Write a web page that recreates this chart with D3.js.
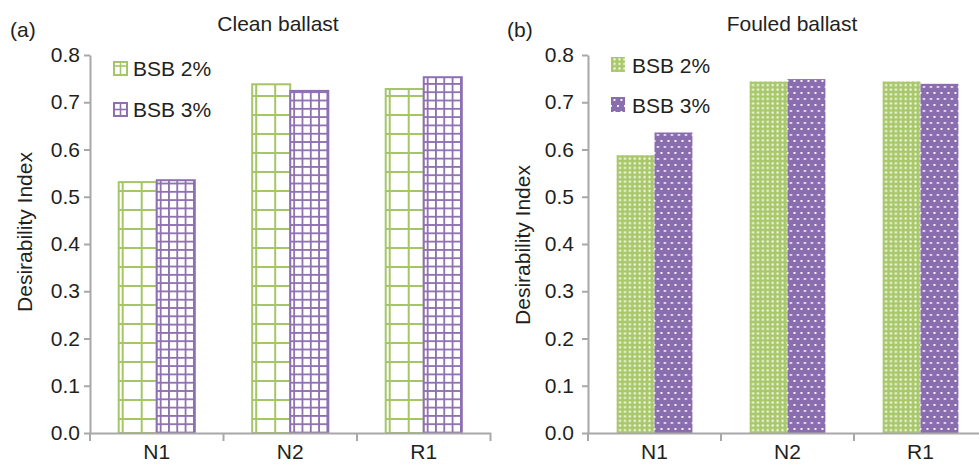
<!DOCTYPE html>
<html>
<head>
<meta charset="utf-8">
<script src="https://cdn.jsdelivr.net/npm/d3@7"></script>
<style>
  html, body { margin: 0; padding: 0; background: #fff; }
  svg { display: block; font-family: "Liberation Sans", Arial, sans-serif; }
</style>
</head>
<body>
<svg id="chart" width="979" height="465"></svg>
<script>
// ---- data ----
const categories = ["N1", "N2", "R1"];
const seriesNames = ["BSB 2%", "BSB 3%"];
const cleanBSB2 = [0.531, 0.738, 0.728];
const cleanBSB3 = [0.535, 0.724, 0.753];
const fouledBSB2 = [0.588, 0.744, 0.744];
const fouledBSB3 = [0.636, 0.749, 0.739];
const yTicks = [0, 0.1, 0.2, 0.3, 0.4, 0.5, 0.6, 0.7, 0.8];
const panelLabels = ["(a)", "(b)"];
const panelTitles = ["Clean ballast", "Fouled ballast"];
const yLabel = "Desirability Index";

// ---- styles ----
const GREEN = "#a5c667";
const PURPLE = "#8e70b1";
const GREEN_FILL = "#a8c86a";
const PURPLE_FILL = "#8a6daf";
const AXIS = "#a8a8a8";
const TEXT = "#231f20";
const FONT = "Liberation Sans, Arial, sans-serif";

const svg = d3.select("#chart");
const defs = svg.append("defs");

// large green grid
const pg = defs.append("pattern").attr("id", "gridGreen").attr("patternUnits", "userSpaceOnUse")
  .attr("x", 3).attr("y", 0).attr("width", 19).attr("height", 19);
pg.append("rect").attr("width", 19).attr("height", 19).attr("fill", "#fff");
pg.append("rect").attr("x", 0).attr("y", 0).attr("width", 2).attr("height", 19).attr("fill", GREEN);
pg.append("rect").attr("x", 0).attr("y", 0).attr("width", 19).attr("height", 2).attr("fill", GREEN);

// small purple grid
const pp = defs.append("pattern").attr("id", "gridPurple").attr("patternUnits", "userSpaceOnUse")
  .attr("x", 3).attr("y", 0).attr("width", 8.3).attr("height", 8.3);
pp.append("rect").attr("width", 8.3).attr("height", 8.3).attr("fill", "#fff");
pp.append("rect").attr("x", 0).attr("y", 0).attr("width", 1.8).attr("height", 8.3).attr("fill", PURPLE);
pp.append("rect").attr("x", 0).attr("y", 0).attr("width", 8.3).attr("height", 1.8).attr("fill", PURPLE);

// green dots
const dg = defs.append("pattern").attr("id", "dotGreen").attr("patternUnits", "userSpaceOnUse")
  .attr("x", 1).attr("y", 0).attr("width", 4.9).attr("height", 4.6);
dg.append("rect").attr("width", 4.9).attr("height", 4.6).attr("fill", GREEN_FILL);
dg.append("rect").attr("x", 1.5).attr("y", 1.3).attr("width", 2).attr("height", 2).attr("fill", "#fff");

// purple dots (staggered)
const dp = defs.append("pattern").attr("id", "dotPurple").attr("patternUnits", "userSpaceOnUse")
  .attr("x", 1).attr("y", 0).attr("width", 7).attr("height", 12);
dp.append("rect").attr("width", 7).attr("height", 12).attr("fill", PURPLE_FILL);
dp.append("rect").attr("x", 1.5).attr("y", 2).attr("width", 1.9).attr("height", 1.9).attr("fill", "#fff");
dp.append("rect").attr("x", 5).attr("y", 8).attr("width", 1.9).attr("height", 1.9).attr("fill", "#fff");

const panels = [
  { data: [cleanBSB2, cleanBSB3], xRange: [90, 490.5], labelX: 10, titleX: 278, ylabX: 32, ylabY: 232,
    tickPad: 4, fills: ["url(#gridGreen)", "url(#gridPurple)"], strokes: [GREEN, PURPLE],
    legX: 113, legText: 133, legY: [61, 102], legBase: [76, 117], hatched: true },
  { data: [fouledBSB2, fouledBSB3], xRange: [588, 987], labelX: 507, titleX: 792, ylabX: 530, ylabY: 245,
    tickPad: 8, fills: ["url(#dotGreen)", "url(#dotPurple)"], strokes: [GREEN_FILL, PURPLE_FILL],
    legX: 611, legText: 632, legY: [57, 97], legBase: [73, 113], hatched: false }
];

const y = d3.scaleLinear().domain([0, 0.8]).range([433, 55]);

panels.forEach((p, pi) => {
  const g = svg.append("g");
  const x = d3.scaleBand().domain(categories).range(p.xRange).paddingInner(0.43).paddingOuter(0.215);
  const x1 = d3.scaleBand().domain(seriesNames).range([0, x.bandwidth()]);

  // bars
  seriesNames.forEach((s, si) => {
    categories.forEach((c, ci) => {
      const v = p.data[si][ci];
      const bg = g.append("g").attr("transform", `translate(${x(c) + x1(s)},0)`);
      bg.append("rect")
        .attr("x", 0).attr("y", y(v))
        .attr("width", x1.bandwidth()).attr("height", y(0) - y(v))
        .attr("fill", p.fills[si])
        .attr("stroke", p.hatched ? p.strokes[si] : "none")
        .attr("stroke-width", p.hatched ? 2 : 0);
    });
  });

  // y axis
  const yAxis = d3.axisLeft(y).tickValues(yTicks).tickFormat(d3.format(".1f"))
    .tickSize(6).tickSizeOuter(0).tickPadding(p.tickPad);
  const ya = g.append("g").attr("transform", `translate(${p.xRange[0]},0)`).call(yAxis);
  ya.select(".domain").attr("stroke", AXIS).attr("stroke-width", 2);
  ya.selectAll(".tick line").attr("stroke", AXIS).attr("stroke-width", 2);
  ya.selectAll(".tick text").attr("fill", TEXT).attr("font-size", 21).attr("font-family", FONT);

  // x axis
  const xAxis = d3.axisBottom(x).tickSize(0).tickSizeOuter(0).tickPadding(11);
  const xa = g.append("g").attr("transform", `translate(0,${y(0)})`).call(xAxis);
  xa.select(".domain").attr("stroke", AXIS).attr("stroke-width", 2);
  xa.selectAll(".tick text").attr("fill", TEXT).attr("font-size", 21).attr("font-family", FONT);
  const bounds = categories.map(c => x(c) - x.step() * x.paddingOuter()).concat([p.xRange[1]]);
  xa.selectAll(".bound").data(bounds).join("line").attr("class", "bound")
    .attr("x1", d => d).attr("x2", d => d).attr("y1", 0).attr("y2", 8)
    .attr("stroke", AXIS).attr("stroke-width", 2);

  // panel label & title
  g.append("text").attr("x", p.labelX).attr("y", 37).attr("font-size", 21).attr("fill", TEXT).text(panelLabels[pi]);
  g.append("text").attr("x", p.titleX).attr("y", 31).attr("font-size", 21).attr("fill", TEXT)
    .attr("text-anchor", "middle").text(panelTitles[pi]);

  // y label
  g.append("text").attr("transform", `translate(${p.ylabX},${p.ylabY}) rotate(-90)`)
    .attr("text-anchor", "middle").attr("font-size", 21).attr("fill", TEXT).text(yLabel);

  // legend
  seriesNames.forEach((s, si) => {
    const lg = g.append("g").attr("transform", `translate(${p.legX},${p.legY[si]})`);
    if (p.hatched) {
      lg.append("rect").attr("x", 1).attr("y", 1).attr("width", 13).attr("height", 13)
        .attr("fill", "#fff").attr("stroke", p.strokes[si]).attr("stroke-width", 2);
      lg.append("line").attr("x1", 7.5).attr("x2", 7.5).attr("y1", 1).attr("y2", 14)
        .attr("stroke", p.strokes[si]).attr("stroke-width", 1.6);
      lg.append("line").attr("x1", 1).attr("x2", 14).attr("y1", si === 0 ? 5 : 7.5).attr("y2", si === 0 ? 5 : 7.5)
        .attr("stroke", p.strokes[si]).attr("stroke-width", 1.6);
    } else {
      lg.append("rect").attr("x", 0).attr("y", 0).attr("width", 14).attr("height", 15)
        .attr("fill", p.fills[si]);
    }
    g.append("text").attr("x", p.legText).attr("y", p.legBase[si]).attr("font-size", 21)
      .attr("fill", TEXT).text(s);
  });
});
</script>
</body>
</html>
